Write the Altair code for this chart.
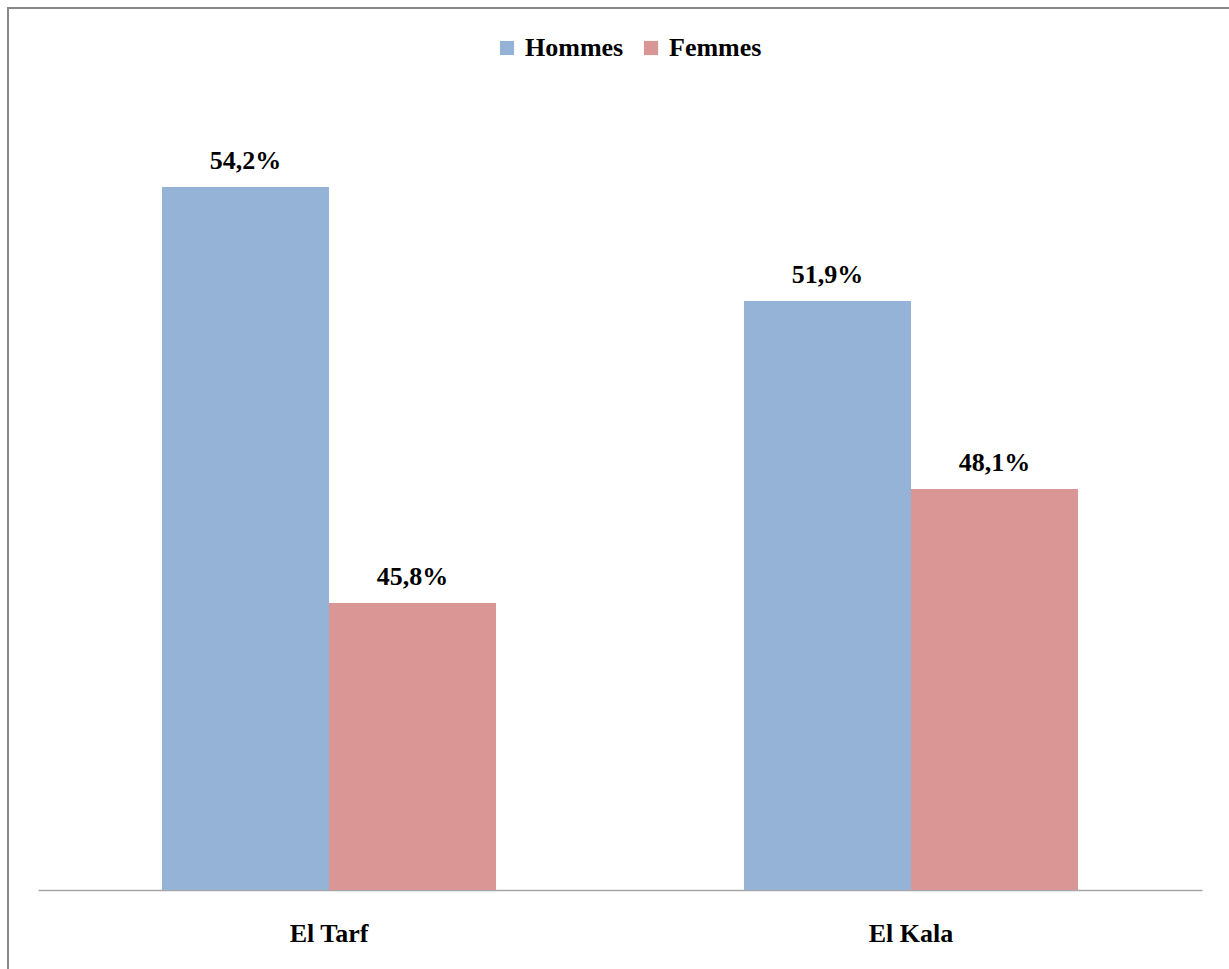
import altair as alt
import pandas as pd

villes = ["El Tarf", "El Tarf", "El Kala", "El Kala"]
sexes = ["Hommes", "Femmes", "Hommes", "Femmes"]
valeurs = [54.2, 45.8, 51.9, 48.1]
etiquettes = ["54,2%", "45,8%", "51,9%", "48,1%"]

df = pd.DataFrame({"ville": villes, "sexe": sexes, "val": valeurs, "lab": etiquettes})

FONT = "Liberation Serif"
FS = 26
W, H = 1164, 792

xenc = alt.X("ville:N", sort=["El Tarf", "El Kala"], title=None,
             scale=alt.Scale(paddingInner=0.426, paddingOuter=0.213),
             axis=alt.Axis(labelAngle=0, labelFont=FONT, labelFontSize=FS, labelFontWeight="bold",
                           labelColor="black", labelBaseline="alphabetic", labelPadding=51,
                           ticks=False, domainColor="#A6A6A6", domainWidth=1.5))
xoff = alt.XOffset("sexe:N", sort=["Hommes", "Femmes"])
yscale = alt.Scale(domain=[40, 56], zero=False, nice=False)

bars = alt.Chart(df).mark_bar(clip=True).encode(
    x=xenc, xOffset=xoff,
    y=alt.Y("val:Q", scale=yscale, axis=None),
    y2=alt.datum(40),
    color=alt.Color("sexe:N", sort=["Hommes", "Femmes"],
                    scale=alt.Scale(domain=["Hommes", "Femmes"], range=["#95B3D7", "#D99694"]),
                    legend=alt.Legend(title=None, orient="none", direction="horizontal",
                                      legendX=456, legendY=-63, symbolType="square",
                                      symbolSize=200, symbolStrokeWidth=0, labelFont=FONT,
                                      labelFontSize=FS, labelFontWeight="bold", labelColor="black",
                                      labelOffset=5, columnPadding=14)),
)

texts = alt.Chart(df).mark_text(font=FONT, fontSize=FS, fontWeight="bold", color="black",
                                 baseline="alphabetic", dy=-18).encode(
    x=xenc, xOffset=xoff,
    y=alt.Y("val:Q", scale=yscale, axis=None),
    text="lab:N",
)

border = alt.Chart(pd.DataFrame({"a": [0]})).mark_rect(fill=None, stroke="#888888", strokeWidth=2).encode(
    x=alt.value(-30), x2=alt.value(W + 60), y=alt.value(-90), y2=alt.value(H + 120)
)

chart = alt.layer(border, bars, texts).properties(
    width=W, height=H,
    autosize=alt.AutoSizeParams(type="none"),
    padding={"left": 38, "top": 98, "right": 27, "bottom": 79},
    background="white",
).configure_view(stroke=None)

chart.save("out.html", embed_options={"renderer": "svg", "actions": False})
